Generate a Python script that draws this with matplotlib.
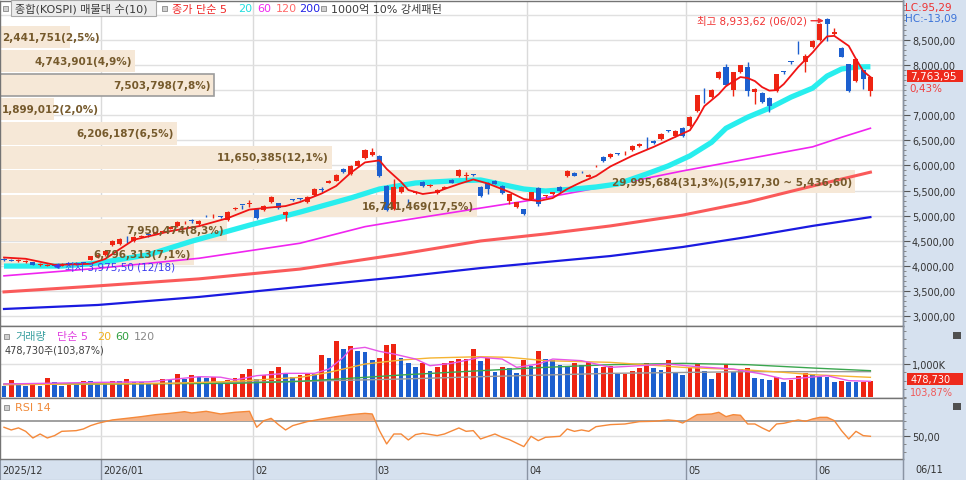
import numpy as np
import matplotlib
matplotlib.use("Agg")
import matplotlib.pyplot as plt
from matplotlib.patches import Rectangle
from matplotlib.ticker import MultipleLocator, FuncFormatter

plt.rcParams["font.family"] = ["DejaVu Sans", "Noto Sans CJK KR"]

# ---------------- data ----------------
opens = [4135, 4125, 4100, 4080, 4075, 4015, 4005, 4030, 4000, 4050, 4030, 4070, 4120, 4175,
         4215, 4414, 4434, 4540, 4494, 4580, 4620, 4640, 4680, 4740, 4793, 4845, 4900, 4833, 5000, 4985,
         4985, 4912, 5130, 5215, 5240,
         5131, 5112, 5271, 5251, 5012, 5320, 5345, 5271, 5410, 5515, 5649, 5689, 5928, 5829, 5988, 6147, 6207,
         6187, 5590, 5131, 5470, 5280, 5460, 5669, 5580, 5450, 5540, 5709, 5789, 5785, 5815, 5570, 5649,
         5689, 5590, 5291, 5171, 5131,
         5331, 5550, 5385, 5430, 5570, 5789, 5849, 5875, 5769, 5980, 6167, 6167, 6235, 6240, 6307, 6386,
         6470, 6486, 6526, 6690, 6586, 6745,
         6785, 7084, 7505, 7363, 7740, 7960, 7502, 7861, 7960, 7462, 7442, 7343, 7482, 7870, 8065, 8265,
         8060, 8358,
         8498, 8916, 8617, 8339, 8020, 7681, 7900, 7482]
closes = [4110, 4105, 4115, 4100, 4020, 4035, 4020, 3995, 4040, 4030, 4060, 4050, 4190, 4215,
          4295, 4494, 4534, 4525, 4574, 4600, 4610, 4680, 4700, 4780, 4872, 4860, 4890, 4892, 4985, 4995,
          4970, 5072, 5150, 5208, 5255,
          4952, 5191, 5370, 5151, 5072, 5305, 5325, 5370, 5530, 5505, 5689, 5809, 5868, 5988, 6088, 6307, 6267,
          5789, 5112, 5570, 5570, 5265, 5475, 5590, 5600, 5510, 5560, 5649, 5908, 5795, 5805, 5390, 5530,
          5629, 5450, 5430, 5271, 5032,
          5470, 5231, 5395, 5470, 5490, 5888, 5789, 5862, 5809, 5995, 6088, 6227, 6225, 6250, 6386, 6426,
          6460, 6440, 6625, 6680, 6685, 6586,
          6964, 7402, 7495, 7502, 7861, 7602, 7861, 8000, 7482, 7522, 7263, 7183, 7821, 7855, 8055, 8250,
          8179, 8478,
          8817, 8817, 8657, 8159, 7482, 8119, 7731, 7763.95]
highs = [4150, 4140, 4130, 4115, 4085, 4050, 4040, 4045, 4055, 4065, 4075, 4085, 4200, 4230,
         4310, 4510, 4550, 4600, 4590, 4615, 4660, 4695, 4720, 4795, 4885, 4895, 4930, 4905, 5010, 5030,
         5000, 5085, 5165, 5220, 5310,
         5140, 5205, 5385, 5260, 5090, 5340, 5355, 5385, 5545, 5560, 5700, 5820, 5940, 6000, 6100, 6320, 6346,
         6200, 5600, 5729, 5585, 5330, 5500, 5690, 5620, 5525, 5580, 5720, 5920, 5868, 5830, 5580, 5660,
         5700, 5600, 5440, 5280, 5140,
         5480, 5570, 5420, 5480, 5580, 5900, 5860, 5890, 5820, 6010, 6180, 6240, 6250, 6290, 6400, 6440,
         6566, 6500, 6640, 6705, 6700, 6760,
         6980, 7410, 7540, 7515, 7875, 8020, 7870, 8010, 8060, 7535, 7455, 7355, 7830, 7880, 8080, 8478,
         8220, 8490,
         8830, 8933.62, 8737, 8350, 8030, 8130, 7910, 7790]
lows = [4095, 4090, 4085, 4065, 4010, 4000, 3990, 3975.5, 3990, 4015, 4020, 4040, 4110, 4160,
        4200, 4400, 4420, 4460, 4480, 4565, 4570, 4625, 4665, 4725, 4780, 4830, 4860, 4820, 4970, 4960,
        4950, 4900, 5120, 5140, 5170,
        4940, 5100, 5260, 5140, 4892, 5290, 5315, 5260, 5400, 5470, 5640, 5680, 5855, 5815, 5975, 6135, 6195,
        5770, 5090, 5110, 5455, 5220, 5430, 5575, 5565, 5440, 5525, 5640, 5775, 5709, 5790, 5380, 5430,
        5620, 5440, 5231, 5160, 5020,
        5320, 5200, 5360, 5420, 5480, 5775, 5780, 5850, 5760, 5970, 6075, 6155, 6200, 6210, 6295, 6375,
        6327, 6420, 6515, 6665, 6575, 6575,
        6770, 7070, 7240, 7350, 7730, 7590, 7382, 7850, 7382, 7223, 7250, 7064, 7470, 7820, 8030, 8220,
        7861, 8345,
        8485, 8478, 8600, 8150, 7470, 7670, 7522, 7382]

# volume in thousands of shares
volumes = [323, 525, 384, 333, 384, 333, 586, 444, 333, 384,
           380, 495, 485, 414, 384, 495, 485, 556, 465, 444,
           384, 394, 556, 525, 697, 535, 667, 616, 566, 616,
           455, 505, 586, 697, 848, 535, 667, 778, 899, 697,
           596, 677, 727, 697, 1273, 1172, 1697, 1454, 1555, 1384,
           1374, 1131, 1192, 1586, 1606, 1192, 1020, 899, 1030, 788,
           919, 1030, 1091, 1141, 1162, 1444, 1101, 1172, 768, 899,
           869, 727, 1131, 929, 1384, 1162, 1121, 960, 919, 1020,
           960, 1071, 879, 899, 949, 697, 707, 778, 879, 1020,
           879, 818, 1131, 717, 677, 899, 1000, 778, 535, 727,
           1000, 747, 848, 869, 576, 535, 515, 616, 455, 515,
           626, 717, 697, 616, 606, 455, 485, 455, 450, 461,
           478.73]

# price moving averages, sampled along the drawn lines
ma5_x = [0, 3, 5, 7, 10, 12, 14, 16, 18, 21, 23, 27, 31, 34, 36, 39, 41, 44, 46, 48,
         50, 52, 53, 55, 56, 58, 60, 61, 63, 65, 67, 70, 72, 74, 76, 78, 80, 82, 84, 87,
         90, 93, 95, 96, 97, 99, 100, 102, 103, 104, 105, 106, 107, 108, 110, 112, 113, 114, 115, 117,
         118, 119, 120]
ma5_v = [4165, 4140, 4080, 4020, 4030, 4040, 4135, 4330, 4520, 4620, 4690, 4790, 4950, 5120, 5150, 5190, 5270,
         5440, 5590, 5850, 6060, 6100, 5930, 5670, 5510, 5430, 5470, 5530, 5630, 5720, 5640, 5470, 5330, 5290,
         5350, 5530, 5670, 5790, 5980, 6190, 6370, 6570, 6700, 6920, 7180, 7420, 7580, 7760, 7740, 7680, 7560,
         7490, 7500, 7620, 7960, 8250, 8420, 8570, 8580, 8380, 8120, 7880, 7760]
ma20_x = [0, 8, 13, 20, 26, 34, 41, 48, 52, 57, 62, 66, 70, 72, 75, 79, 82, 85, 89, 92,
          95, 98, 100, 103, 106, 109, 112, 114, 116, 118, 120]
ma20_v = [3995, 3995, 4055, 4220, 4490, 4810, 5070, 5350, 5530, 5650, 5690, 5710, 5590, 5530, 5490, 5530,
          5570, 5630, 5830, 5990, 6190, 6460, 6740, 6960, 7140, 7360, 7540, 7780, 7920, 7960, 7965]
ma60_x = [0, 13, 27, 41, 50, 55, 66, 74, 84, 94, 103, 112, 116, 120]
ma60_v = [3800, 3950, 4150, 4450, 4780, 4900, 5150, 5330, 5600, 5890, 6130, 6370, 6560, 6740]
ma120_x = [0, 13, 27, 41, 55, 66, 75, 84, 94, 103, 112, 120]
ma120_v = [3480, 3600, 3740, 3935, 4235, 4495, 4635, 4795, 5010, 5270, 5590, 5865]
ma200_x = [0, 13, 27, 41, 55, 66, 75, 84, 94, 103, 112, 120]
ma200_v = [3140, 3220, 3380, 3580, 3780, 3955, 4075, 4195, 4375, 4575, 4795, 4970]

# volume moving averages (K)
vma5_x = [0, 13, 20, 27, 30, 32, 35, 39, 43, 45, 47, 48, 50, 52, 54, 57, 59, 62, 66, 69,
          71, 74, 76, 80, 84, 88, 92, 96, 101, 105, 108, 110, 114, 117, 120]
vma5_v = [394, 444, 460, 616, 600, 515, 646, 717, 717, 848, 1202, 1454, 1505, 1384, 1303, 1151, 949, 1020,
          1202, 1151, 899, 1000, 1151, 1101, 899, 949, 1000, 919, 848, 697, 545, 566, 646, 495, 475]
vma20_x = [0, 23, 32, 41, 45, 50, 55, 59, 66, 70, 75, 84, 94, 103, 108, 112, 120]
vma20_v = [374, 414, 475, 596, 747, 1000, 1121, 1182, 1222, 1202, 1101, 1050, 899, 818, 747, 677, 596]
vma60_x = [0, 32, 41, 50, 55, 66, 75, 84, 94, 103, 112, 120]
vma60_v = [380, 414, 475, 596, 667, 798, 899, 980, 1020, 980, 879, 798]
vma120_x = [0, 23, 41, 55, 66, 84, 103, 120]
vma120_v = [394, 414, 475, 545, 616, 717, 768, 768]

# RSI 14
rsi_x = [0, 1, 2, 3, 4, 5, 6, 7, 8, 10, 11, 12, 13, 15, 17, 19, 21, 23, 25, 26,
         28, 30, 32, 34, 35, 36, 37, 38, 39, 40, 42, 44, 46, 48, 50, 51, 52, 53, 54, 55,
         56, 57, 58, 60, 61, 63, 64, 65, 66, 68, 69, 70, 72, 73, 74, 75, 77, 78, 79, 80,
         81, 82, 84, 86, 88, 90, 92, 93, 94, 95, 96, 98, 99, 100, 101, 102, 103, 104, 105, 106,
         107, 108, 110, 111, 112, 113, 114, 115, 116, 117, 118, 119, 120]
rsi_v = [61.8, 58.3, 61.0, 56.5, 47.8, 53.0, 47.8, 50.9, 56.5, 57.4, 59.6, 64.0, 67.0, 71.4, 73.5, 75.7,
         78.3, 80.0, 82.2, 80.5, 82.7, 79.2, 81.4, 82.7, 61.8, 70.5, 73.5, 65.3, 58.3, 64.0, 69.2, 72.7,
         75.7, 78.3, 80.0, 79.2, 57.4, 40.0, 53.0, 53.0, 45.2, 52.2, 53.9, 50.9, 53.0, 60.9, 56.5, 57.4,
         46.5, 53.0, 48.7, 45.6, 36.5, 50.0, 44.3, 48.7, 50.0, 59.6, 56.5, 58.3, 56.5, 62.6, 65.3, 66.1,
         69.2, 69.6, 71.4, 70.5, 67.4, 72.7, 78.3, 79.2, 81.4, 75.7, 78.3, 77.5, 66.1, 66.1, 61.0, 56.5,
         66.1, 67.0, 71.4, 69.6, 72.7, 74.8, 74.8, 70.5, 57.4, 46.5, 56.5, 50.9, 50.0]

# volume profile (매물대), top band first
PROFILE_TOP = 8801.5
PROFILE_STEP = 480.7
profile_vol = [2441751, 4743901, 7503798, 1899012, 6206187, 11650385, 29995684, 16741469, 7950474, 6796313]
profile_pct = ["2,5", "4,9", "7,8", "2,0", "6,5", "12,1", "31,3", "17,5", "8,3", "7,1"]
profile_range = "(5,917,30 ~ 5,436,60)"
current_band = 2

month_pos = [13.5, 34.5, 51.5, 72.5, 94.5, 112.5]
month_labels = ["2025/12", "2026/01", "02", "03", "04", "05", "06"]

# ---------------- layout helpers ----------------
W, H = 966, 481
X_STEP = 7.22
XLIM = (-4 / X_STEP, (903 - 4) / X_STEP)
RED, BLUE = "#ee2412", "#1c5fcf"
PANEL_BG = "#d6e1ef"
GRID = "#e0e0e0"
BORDER = "#747474"

fig = plt.figure(figsize=(W / 100, H / 100), dpi=100, facecolor="white")


def box(x0, y0, x1, y1):
    return [x0 / W, 1 - y1 / H, (x1 - x0) / W, (y1 - y0) / H]


def ftext(x, y, s, color, size=8, **kw):
    fig.text(x / W, 1 - y / H, s, color=color, fontsize=size, va="center", **kw)


def square(x, y):
    fig.add_artist(Rectangle((x / W, 1 - (y + 2.5) / H), 5 / W, 5 / H, transform=fig.transFigure,
                             fc="#d0d0d0", ec="#888888", lw=0.6))


def fbox(x0, y0, x1, y1, fc, ec="none"):
    fig.add_artist(Rectangle((x0 / W, 1 - y1 / H), (x1 - x0) / W, (y1 - y0) / H,
                             transform=fig.transFigure, fc=fc, ec=ec, lw=0.8))


def style_panel(a):
    a.set_xlim(XLIM)
    a.set_xticks([])
    a.set_facecolor("white")
    for sp in a.spines.values():
        sp.set_color(BORDER)
        sp.set_linewidth(1)
    a.yaxis.tick_right()
    a.tick_params(axis="y", which="major", direction="out", length=5, width=0.8, colors="#555555",
                  labelsize=7, labelcolor="#333333", pad=1.5)
    a.tick_params(axis="y", which="minor", direction="out", length=2, width=0.6, colors="#777777")
    for m in month_pos:
        a.axvline(m, color="#dadada", lw=1, zorder=0)


def dec_comma(v, _pos=None):
    return f"{v:,.2f}".replace(".", ",")


# background strips (right scale and date bar)
bg = fig.add_axes(box(903, 0, 966, 481))
bg.set_facecolor(PANEL_BG)
bg.set_xticks([])
bg.set_yticks([])
for sp in bg.spines.values():
    sp.set_visible(False)

ax_date = fig.add_axes(box(0, 460, 903, 481))
ax_date.set_facecolor(PANEL_BG)
ax_date.set_xlim(XLIM)
ax_date.set_ylim(0, 1)
ax_date.set_xticks([])
ax_date.set_yticks([])
for sp in ax_date.spines.values():
    sp.set_color("#8a94a4")
for m in month_pos:
    ax_date.axvline(m, color="#8a94a4", lw=1)
ax_date.text(XLIM[0] + 0.3, 0.48, month_labels[0], fontsize=7, color="#333333", va="center")
for m, lab in zip(month_pos, month_labels[1:]):
    ax_date.text(m + 0.25, 0.48, lab, fontsize=7, color="#333333", va="center")
ftext(915, 470, "06/11", "#333333", size=7)
fig.add_artist(plt.Line2D([903 / W, 903 / W], [0, 1], transform=fig.transFigure, color="#8a94a4", lw=1))

# ---------------- price panel ----------------
ax = fig.add_axes(box(0, 2, 903, 327))
style_panel(ax)
ax.set_ylim(2801, 9275)
for v in range(3000, 9001, 500):
    ax.axhline(v, color=GRID, lw=1, zorder=0)

span = XLIM[1] - XLIM[0]
vmax = max(profile_vol)
for k, (pv, pct) in enumerate(zip(profile_vol, profile_pct)):
    center = PROFILE_TOP - (k + 0.5) * PROFILE_STEP
    width = pv / vmax * 0.947 * span
    ax.barh(center, width, left=XLIM[0], height=PROFILE_STEP * 0.93, color="#f6e8d7",
            edgecolor="#9c9c9c" if k == current_band else "none", lw=1.2, zorder=1)
    text = f"{pv:,}({pct}%)"
    if pv == vmax:
        text += profile_range
    if width * X_STEP > 110:
        ax.text(XLIM[0] + width - 0.45, center, text, ha="right", va="center", fontsize=7.5,
                fontweight="bold", color="#765a2c", zorder=6)
    else:
        ax.text(XLIM[0] + 0.3, center, text, ha="left", va="center", fontsize=7.5,
                fontweight="bold", color="#765a2c", zorder=6)

ax.plot(ma200_x, ma200_v, color="#1a1ae0", lw=1.6, zorder=2)
ax.plot(ma120_x, ma120_v, color="#fa5a5a", lw=2.2, zorder=2)
ax.plot(ma60_x, ma60_v, color="#f024f0", lw=1.2, zorder=2)
ax.plot(ma20_x, ma20_v, color="#28eeee", lw=3.8, zorder=2, solid_capstyle="butt")

o = np.array(opens)
c = np.array(closes)
hi = np.array(highs)
lo = np.array(lows)
x = np.arange(len(o))
cols = np.where(c >= o, RED, BLUE)
ax.vlines(x, lo, hi, colors=cols, lw=1, zorder=3)
ax.bar(x, np.maximum(np.abs(c - o), 16), bottom=np.minimum(o, c), width=0.7, color=cols, zorder=4)
ax.plot(ma5_x, ma5_v, color="#f01414", lw=1.3, zorder=5)

ax.set_yticks(np.arange(3000, 8501, 500)[[0, 1, 2, 3, 4, 5, 6, 7, 8, 10, 11]])
ax.yaxis.set_major_formatter(FuncFormatter(dec_comma))
ax.yaxis.set_minor_locator(MultipleLocator(100))

imax = int(np.argmax(hi))
ax.annotate("최고 8,933,62 (06/02)", xy=(imax - 0.45, 8882), xytext=(111.2, 8882), ha="right", va="center",
            fontsize=7.5, color="#f03030", zorder=7,
            arrowprops=dict(arrowstyle="-|>", color="#f03030", lw=1, mutation_scale=7, shrinkA=1, shrinkB=0))
imin = int(np.argmin(lo))
ax.annotate("최저 3,975,50 (12/18)", xy=(imin - 0.15, 3992), xytext=(8.4, 3992), ha="left", va="center",
            fontsize=7.5, color="#3b3bef", zorder=7,
            arrowprops=dict(arrowstyle="-|>", color="#3b3bef", lw=1, mutation_scale=7, shrinkA=1, shrinkB=0))

# ---------------- volume panel ----------------
axv = fig.add_axes(box(0, 327, 903, 399))
style_panel(axv)
axv.set_ylim(-30, 2152)
axv.axhline(1000, color=GRID, lw=1, zorder=0)
vol = np.array(volumes)
vcols = [BLUE] + [RED if vol[i] > vol[i - 1] else BLUE for i in range(1, len(vol))]
axv.bar(x, vol, width=0.66, color=vcols, zorder=2)
axv.plot(vma120_x, vma120_v, color="#9a9a9a", lw=1, zorder=3)
axv.plot(vma60_x, vma60_v, color="#3aa64e", lw=1, zorder=3)
axv.plot(vma20_x, vma20_v, color="#f5b432", lw=1, zorder=3)
axv.plot(vma5_x, vma5_v, color="#e655e6", lw=1, zorder=3)
axv.set_yticks([1000])
axv.set_yticklabels(["1,000K"])
axv.yaxis.set_minor_locator(MultipleLocator(250))

# ---------------- RSI panel ----------------
axr = fig.add_axes(box(0, 399, 903, 460))
style_panel(axr)
axr.set_ylim(20.3, 100.1)
axr.axhline(50, color=GRID, lw=1, zorder=0)
axr.axhline(70, color="#a0a0a0", lw=1.4, zorder=1)
rx = np.array(rsi_x)
rv = np.array(rsi_v)
axr.fill_between(rx, rv, 70, where=rv > 70, interpolate=True, color="#f4b287", lw=0, zorder=2)
axr.plot(rx, rv, color="#f5893a", lw=1, zorder=3)
axr.set_yticks([50])
axr.yaxis.set_major_formatter(FuncFormatter(dec_comma))
axr.yaxis.set_minor_locator(MultipleLocator(10))

# ---------------- legends and scale notes ----------------
fbox(11, 1, 156, 17, "#ececec", "#a8a8a8")
square(3, 9)
ftext(15, 9.5, "종합(KOSPI) 매물대 수(10)", "#3c3c3c")
square(162, 9)
ftext(172, 9.5, "종가 단순 5", "#f02828")
ftext(238, 9.5, "20", "#22dede")
ftext(257, 9.5, "60", "#f028f0")
ftext(276, 9.5, "120", "#ff6a6a")
ftext(299, 9.5, "200", "#2424e6")
square(321, 9)
ftext(331, 9.5, "1000억 10% 강세패턴", "#3c3c3c")

ftext(905, 8, "LC:95,29", "#ee3030", size=7.5)
ftext(905, 19, "HC:-13,09", "#3a72d8", size=7.5)
fbox(907, 71, 963, 83, "#ee2a1c")
ftext(910, 77, "7,763,95", "white", size=7.5)
ftext(909, 89, "0,43%", "#ef4040", size=7.5)

square(4, 337)
ftext(15, 337.5, "거래량", "#3aa0a0")
ftext(57, 337.5, "단순 5", "#e040e0")
ftext(97, 337.5, "20", "#f0b020")
ftext(115, 337.5, "60", "#30a040")
ftext(134, 337.5, "120", "#8a8a8a")
ftext(5, 351, "478,730주(103,87%)", "#404040", size=7)
fbox(907, 374, 963, 386, "#ee2a1c")
ftext(911, 380, "478,730", "white", size=7)
ftext(910, 393, "103,87%", "#f05a5a", size=7)
fbox(953, 333, 961, 340, "#505050")

square(4, 408)
ftext(15, 408.5, "RSI 14", "#f08a3a")
fbox(953, 404, 961, 411, "#505050")

fig.savefig("out.png", dpi=100, facecolor="white")
